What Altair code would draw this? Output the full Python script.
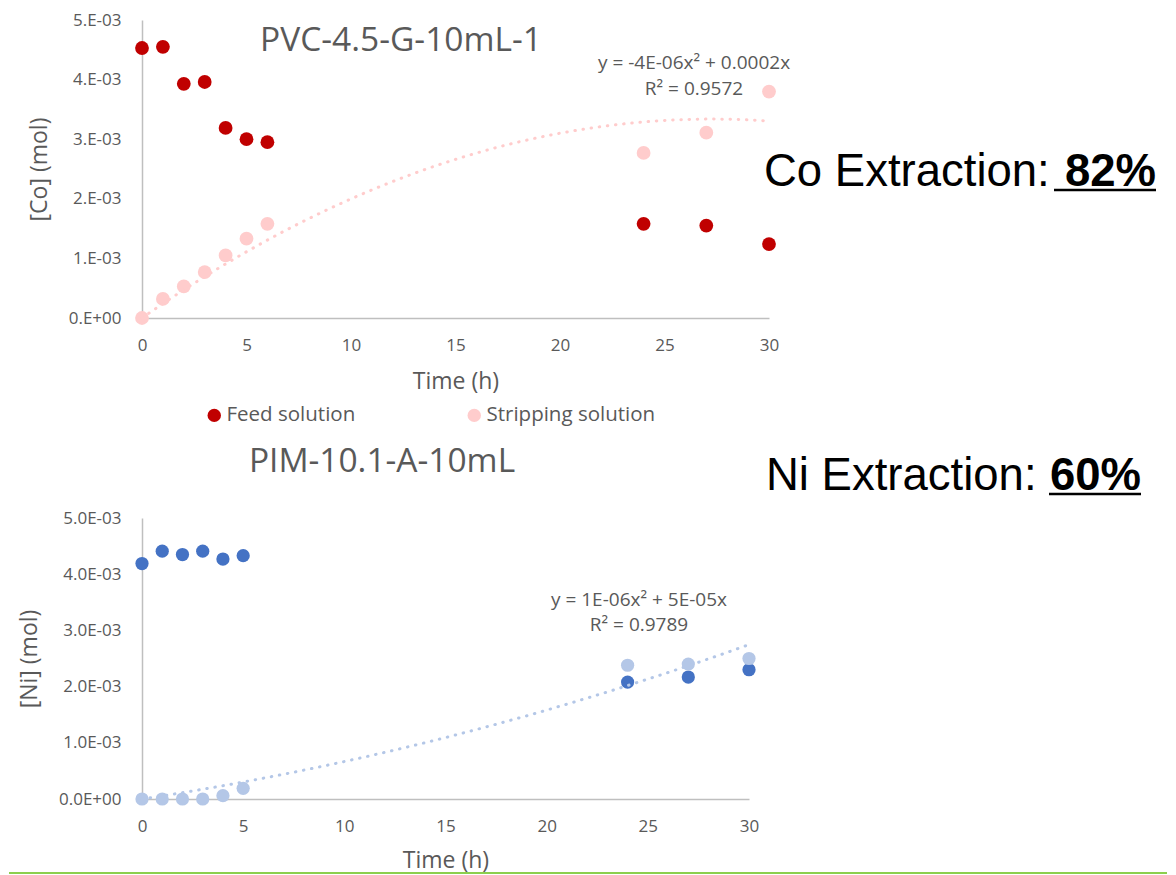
import json
import numpy as np
import pandas as pd
import altair as alt

# ---------------- data ----------------
series_names = ["Feed solution", "Stripping solution"]

time_co = [0, 1, 2, 3, 4, 5, 6, 24, 27, 30]
co_feed = [4.53e-3, 4.55e-3, 3.93e-3, 3.96e-3, 3.19e-3, 3.00e-3, 2.95e-3, 1.58e-3, 1.55e-3, 1.24e-3]
co_strip = [0.0, 0.32e-3, 0.53e-3, 0.77e-3, 1.05e-3, 1.33e-3, 1.58e-3, 2.77e-3, 3.11e-3, 3.80e-3]

time_ni = [0, 1, 2, 3, 4, 5, 24, 27, 30]
ni_feed = [4.19e-3, 4.41e-3, 4.35e-3, 4.41e-3, 4.27e-3, 4.33e-3, 2.08e-3, 2.17e-3, 2.30e-3]
ni_strip = [0.0, 0.0, 0.0, 0.0, 0.06e-3, 0.19e-3, 2.38e-3, 2.40e-3, 2.50e-3]

x_ticks = [0, 5, 10, 15, 20, 25, 30]
y_ticks = [0, 1e-3, 2e-3, 3e-3, 4e-3, 5e-3]
co_tick_labels = ["0.E+00", "1.E-03", "2.E-03", "3.E-03", "4.E-03", "5.E-03"]
ni_tick_labels = ["0.0E+00", "1.0E-03", "2.0E-03", "3.0E-03", "4.0E-03", "5.0E-03"]

co_title = "PVC-4.5-G-10mL-1"
ni_title = "PIM-10.1-A-10mL"
co_eq = ["y = -4E-06x² + 0.0002x", "R² = 0.9572"]
ni_eq = ["y = 1E-06x² + 5E-05x", "R² = 0.9789"]
co_ext = ["Co Extraction:", "82%"]
ni_ext = ["Ni Extraction: ", "60%"]

co_colors = ["#C00000", "#FFCCCC"]
ni_colors = ["#4472C4", "#B4C7E7"]

GRAY = "#595959"
FONT = "Open Sans"
BIG = "Liberation Sans"


# quadratic trendline through the origin (as Excel with intercept = 0)
def fit_origin_quadratic(x, y):
    x = np.asarray(x, float)
    y = np.asarray(y, float)
    A = np.column_stack([x ** 2, x])
    coef, *_ = np.linalg.lstsq(A, y, rcond=None)
    return coef


xs = np.linspace(0, 30, 121)
a_co, b_co = fit_origin_quadratic(time_co, co_strip)
a_ni, b_ni = fit_origin_quadratic(time_ni, ni_strip)
trend_co = pd.DataFrame({"time": xs, "value": a_co * xs ** 2 + b_co * xs})
trend_ni = pd.DataFrame({"time": xs, "value": a_ni * xs ** 2 + b_ni * xs})

co_df = pd.DataFrame({
    "time": time_co + time_co,
    "value": co_feed + co_strip,
    "series": [series_names[0]] * len(time_co) + [series_names[1]] * len(time_co),
})
ni_df = pd.DataFrame({
    "time": time_ni + time_ni,
    "value": ni_feed + ni_strip,
    "series_ni": [series_names[0]] * len(time_ni) + [series_names[1]] * len(time_ni),
})


def x_enc(title_pad=17):
    return alt.X("time:Q", title="Time (h)",
                 scale=alt.Scale(domain=[0, 30], nice=False, zero=False),
                 axis=alt.Axis(values=x_ticks, labelPadding=19, titlePadding=title_pad, labelFlush=False))


def y_enc(title, labels):
    expr = json.dumps(labels) + "[round(datum.value*1000)]"
    return alt.Y("value:Q", title=title,
                 scale=alt.Scale(domain=[0, 0.005], nice=False),
                 axis=alt.Axis(values=y_ticks, labelExpr=expr, labelPadding=21, titlePadding=17,
                               labelFlush=False))


def text_layer(txt, x, y, size, font=FONT, color=GRAY, align="center", baseline="middle", weight="normal"):
    return alt.Chart(pd.DataFrame({"t": [txt]})).mark_text(
        font=font, fontSize=size, color=color, align=align, baseline=baseline, fontWeight=weight
    ).encode(x=alt.value(x), y=alt.value(y), text="t:N")


def rule_layer(x, x2, y, color="black", width=2.5):
    return alt.Chart(pd.DataFrame({"k": [0]})).mark_rule(color=color, strokeWidth=width).encode(
        x=alt.value(x), x2=alt.value(x2), y=alt.value(y))


# ---------------- top chart (Co) ----------------
co_points = alt.Chart(co_df).mark_circle(size=190, opacity=1).encode(
    x=x_enc(),
    y=y_enc("[Co] (mol)", co_tick_labels),
    color=alt.Color("series:N",
                    scale=alt.Scale(domain=series_names, range=co_colors),
                    legend=alt.Legend(orient="none", legendX=62, legendY=385, direction="horizontal",
                                      title=None, symbolType="circle", symbolSize=180,
                                      symbolStrokeWidth=0, symbolOpacity=1,
                                      labelFont=FONT, labelFontSize=20.5, labelColor=GRAY,
                                      labelLimit=400, columnPadding=108, labelOffset=2, padding=0)),
)
co_trend = alt.Chart(trend_co).mark_line(
    color=co_colors[1], strokeWidth=3, strokeDash=[0.5, 7.7], strokeCap="round"
).encode(x=x_enc(), y=y_enc("[Co] (mol)", co_tick_labels))

top = alt.layer(
    co_points,
    co_trend,
    text_layer(co_title, 259, 21, 33.5),
    text_layer(co_eq[0], 552, 43, 19),
    text_layer(co_eq[1], 552, 69, 19),
    text_layer(co_ext[0], 622, 166, 45.5, font=BIG, color="black", align="left", baseline="alphabetic"),
    text_layer(co_ext[1], 1014, 166, 45.5, font=BIG, color="black", align="right", baseline="alphabetic",
               weight="bold"),
    rule_layer(912, 1014, 170),
).properties(width=627, height=298)

# ---------------- bottom chart (Ni) ----------------
ni_points = alt.Chart(ni_df).mark_circle(size=175, opacity=1).encode(
    x=x_enc(15),
    y=y_enc("[Ni] (mol)", ni_tick_labels),
    color=alt.Color("series_ni:N", scale=alt.Scale(domain=series_names, range=ni_colors), legend=None),
)
ni_trend = alt.Chart(trend_ni).mark_line(
    color=ni_colors[1], strokeWidth=3, strokeDash=[0.5, 7.7], strokeCap="round"
).encode(x=x_enc(15), y=y_enc("[Ni] (mol)", ni_tick_labels))

bottom = alt.layer(
    ni_points,
    ni_trend,
    text_layer(ni_title, 240, -56, 33.5),
    text_layer(ni_eq[0], 497, 82, 19),
    text_layer(ni_eq[1], 497, 107, 19),
    text_layer(ni_ext[0], 624, -28, 45.5, font=BIG, color="black", align="left", baseline="alphabetic"),
    text_layer(ni_ext[1], 999, -28, 45.5, font=BIG, color="black", align="right", baseline="alphabetic",
               weight="bold"),
    rule_layer(907, 999, -24),
    rule_layer(-133, 1025, 355, color="#8CCF4D", width=2),
).properties(width=607, height=281)

chart = alt.vconcat(top, bottom, spacing=19).resolve_scale(color="independent").properties(
    padding={"top": 3, "left": 0, "right": 0, "bottom": 0}, background="white"
).configure_view(stroke=None).configure_axis(
    grid=False, ticks=False, tickSize=0, domainColor="#BFBFBF", domainWidth=1.5,
    labelFont=FONT, labelFontSize=17, labelColor=GRAY,
    titleFont=FONT, titleFontSize=23, titleColor=GRAY, titleFontWeight="normal",
)

chart.save("out.html", embed_options={"renderer": "svg", "actions": False})
